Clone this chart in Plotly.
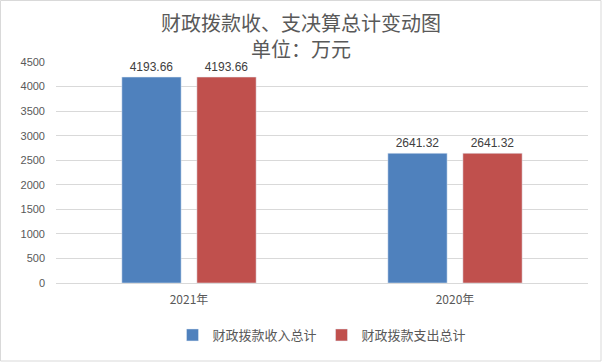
import plotly.graph_objects as go

categories = ["2021年", "2020年"]
income = [4193.66, 2641.32]
expense = [4193.66, 2641.32]
series_names = ["财政拨款收入总计", "财政拨款支出总计"]
tick_vals = [0, 500, 1000, 1500, 2000, 2500, 3000, 3500, 4000, 4500]
title_lines = ["财政拨款收、支决算总计变动图", "单位：万元"]

FONT = "Noto Sans CJK SC, Microsoft YaHei, sans-serif"
L, R, T, B = 56, 14, 62, 79
PW, PH = 602 - L - R, 362 - T - B

fig = go.Figure()
for name, vals, color in [(series_names[0], income, "#4F81BD"), (series_names[1], expense, "#C0504D")]:
    fig.add_trace(go.Bar(
        x=categories, y=vals, name=name, marker_color=color,
        text=[f"{v:.2f}" for v in vals], textposition="outside",
        textfont=dict(size=12, color="#404040", family="Liberation Sans, Arial"),
        cliponaxis=False,
    ))

annotations = [dict(
    text="<br>".join(title_lines), xref="paper", yref="paper", x=0.5 + (R - L) / 2 / PW,
    y=1 + (T - 35) / PH, xanchor="center", yanchor="middle", showarrow=False,
    font=dict(size=20, color="#595959", family=FONT))]

fig.update_layout(
    width=602, height=362,
    paper_bgcolor="white", plot_bgcolor="white",
    barmode="group", bargap=0.436, bargroupgap=0.21,
    margin=dict(l=L, r=R, t=T, b=B, autoexpand=False),
    showlegend=True,
    legend=dict(orientation="h", x=0.5, xanchor="center", y=-(335 - (362 - B)) / PH, yanchor="middle",
                font=dict(size=13, color="#595959", family=FONT), itemwidth=30,
                traceorder="normal"),
    xaxis=dict(showline=True, linecolor="#D9D9D9", tickfont=dict(size=12, color="#595959", family=FONT),
               ticks="", ticklabelstandoff=6),
    yaxis=dict(range=[0, 4500], tickvals=tick_vals, gridcolor="#D9D9D9", showline=False,
               zeroline=False, tickfont=dict(size=11, color="#595959", family="Liberation Sans, Arial"),
               ticklabelstandoff=10, automargin=False),
    annotations=annotations,
    shapes=[dict(type="rect", xref="paper", yref="paper",
                 x0=-(L - 0.5) / PW, x1=1 + (R - 1) / PW, y0=-(B - 1) / PH, y1=1 + (T - 0.5) / PH,
                 line=dict(color="#D9D9D9", width=1))],
)

fig.write_html("out.html", config={"displayModeBar": False},
               post_script="document.body.style.margin='0';document.body.style.overflow='hidden';")
